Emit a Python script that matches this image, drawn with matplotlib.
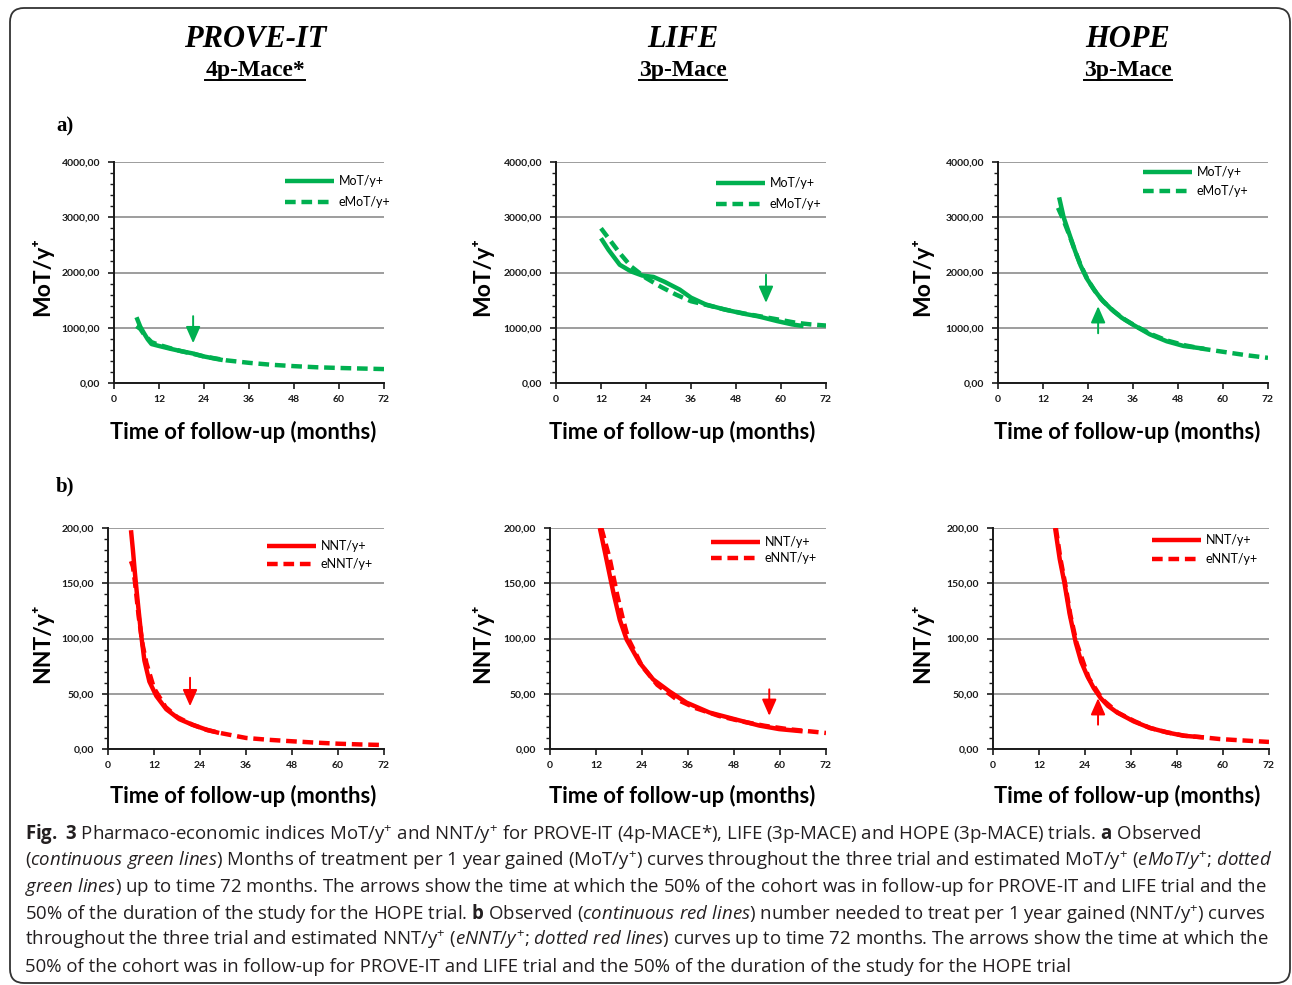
import matplotlib
matplotlib.use("Agg")
import matplotlib.pyplot as plt
from matplotlib.patches import FancyBboxPatch
from matplotlib.lines import Line2D
from matplotlib.transforms import IdentityTransform
from matplotlib import font_manager

# ---------------- data ----------------
trials = ["PROVE-IT", "LIFE", "HOPE"]
endpoints = ["4p-Mace*", "3p-Mace", "3p-Mace"]
month_ticks = [0, 12, 24, 36, 48, 60, 72]
mot_ticks = [0, 1000, 2000, 3000, 4000]
nnt_ticks = [0, 50, 100, 150, 200]

# MoT/y+ observed (solid) and estimated (dashed)
prove_mot_t = [6, 7, 8, 9, 10, 12, 15, 18, 21, 24, 27, 29]
prove_mot_v = [1190, 1020, 900, 790, 705, 670, 620, 575, 535, 480, 440, 415]
prove_emot_t = [6, 7, 8, 10, 12, 15, 18, 21, 24, 30, 36, 42, 48, 54, 60, 66, 72]
prove_emot_v = [1030, 980, 880, 740, 690, 630, 575, 530, 480, 410, 365, 330, 305, 285, 272, 262, 252]

life_mot_t = [12, 14, 17, 20, 23, 26, 29, 33, 36, 40, 45, 50, 54, 59, 63, 66]
life_mot_v = [2620, 2410, 2140, 2020, 1945, 1920, 1830, 1690, 1545, 1420, 1330, 1255, 1205, 1120, 1060, 1030]
life_emot_t = [12, 14, 17, 20, 24, 28, 32, 36, 40, 45, 50, 55, 60, 64, 68, 72]
life_emot_v = [2800, 2620, 2350, 2110, 1900, 1740, 1600, 1480, 1415, 1330, 1260, 1200, 1140, 1090, 1060, 1040]

hope_mot_t = [16.3, 17.5, 19, 20.5, 22, 23.6, 25.5, 27.5, 30, 33, 36, 40.5, 45, 49.5, 55]
hope_mot_v = [3360, 3000, 2700, 2400, 2130, 1900, 1700, 1520, 1350, 1180, 1055, 880, 755, 670, 620]
hope_emot_t = [16, 17.5, 19, 20.5, 22, 24, 26, 28, 31, 34, 37, 41, 45, 50, 55, 60, 66, 72]
hope_emot_v = [3170, 2940, 2680, 2400, 2140, 1860, 1650, 1480, 1290, 1140, 1020, 880, 770, 680, 615, 565, 505, 455]

# NNT/y+ observed (solid) and estimated (dashed)
prove_nnt_t = [6, 6.5, 7, 7.5, 8, 8.7, 9.5, 10.8, 12.6, 15.2, 18.6, 22, 25.6, 29]
prove_nnt_v = [198, 180, 160, 142, 125, 102, 80, 61, 48, 36, 27, 22, 17.6, 14.5]
prove_ennt_t = [6, 6.5, 7, 7.5, 8, 9, 10, 12, 15, 18, 22, 26, 30, 36, 42, 48, 54, 60, 66, 72]
prove_ennt_v = [170, 165, 152, 136, 120, 95, 78, 55, 38, 29, 22, 17, 14, 10, 8.3, 7, 5.8, 4.8, 4.1, 3.6]

life_nnt_t = [13, 14.7, 16.5, 18.2, 20, 23.4, 26.9, 31.2, 35.6, 41.6, 48.6, 54.6, 59.8, 65.9]
life_nnt_v = [200, 172, 142, 117, 99, 78, 63, 52, 42, 33, 26.6, 21.2, 18, 16]
life_ennt_t = [13.4, 15.6, 17.5, 19, 20.4, 24, 28, 33, 38, 44, 50, 56, 62, 67.7, 72]
life_ennt_v = [200, 172, 140, 118, 100, 75, 58, 45, 37, 30, 25, 21, 18, 16, 14.5]

hope_nnt_t = [16.2, 17.4, 18.6, 20, 21.6, 23, 24.6, 26.3, 28.1, 30, 32.4, 36.7, 41, 45.4, 49.7, 55]
hope_nnt_v = [200, 172, 151, 122, 96, 79, 66, 55, 46, 39, 33, 25, 19, 15, 12, 10.5]
hope_ennt_t = [16.4, 17.6, 18.8, 20.2, 21.8, 25, 28.5, 32.5, 37, 41, 45.5, 50, 55, 59.2, 64.4, 72]
hope_ennt_v = [200, 172, 150, 121, 96, 64, 45, 33, 25, 19, 15, 12, 10.5, 9, 7.9, 6.4]

# arrows: month, tail value, tip value
mot_arrow_month = [21.1, 56.0, 26.7]
mot_arrow_tail = [1210, 1960, 900]
mot_arrow_tip = [720, 1450, 1390]
nnt_arrow_month = [21.4, 57.2, 27.4]
nnt_arrow_tail = [64.5, 54, 22]
nnt_arrow_tip = [38.7, 30, 46]

caption_lines = [
    r"$\mathbf{Fig.\ 3}$ Pharmaco-economic indices MoT/y$^{+}$ and NNT/y$^{+}$ for PROVE-IT (4p-MACE*), LIFE (3p-MACE) and HOPE (3p-MACE) trials. $\mathbf{a}$ Observed",
    r"($\mathit{continuous\ green\ lines}$) Months of treatment per 1 year gained (MoT/y$^{+}$) curves throughout the three trial and estimated MoT/y$^{+}$ $\mathit{(eMoT/y^{+}}$; $\mathit{dotted}$",
    r"$\mathit{green\ lines}$) up to time 72 months. The arrows show the time at which the 50% of the cohort was in follow-up for PROVE-IT and LIFE trial and the",
    r"50% of the duration of the study for the HOPE trial. $\mathbf{b}$ Observed ($\mathit{continuous\ red\ lines}$) number needed to treat per 1 year gained (NNT/y$^{+}$) curves",
    r"throughout the three trial and estimated NNT/y$^{+}$ ($\mathit{eNNT/y^{+}}$; $\mathit{dotted\ red\ lines}$) curves up to time 72 months. The arrows show the time at which the",
    r"50% of the cohort was in follow-up for PROVE-IT and LIFE trial and the 50% of the duration of the study for the HOPE trial",
]

# ---------------- style ----------------
GREEN = "#00B050"
RED = "#FF0000"
SANS = ["Lato", "DejaVu Sans"]
SERIF = "Liberation Serif"
names = {f.name for f in font_manager.fontManager.ttflist}
CAP_FONT = "Liberation Sans Narrow" if "Liberation Sans Narrow" in names else "Open Sans"
plt.rcParams["mathtext.fontset"] = "custom"
plt.rcParams["mathtext.rm"] = CAP_FONT
plt.rcParams["mathtext.it"] = CAP_FONT + ":italic"
plt.rcParams["mathtext.bf"] = CAP_FONT + ":bold"

W, H = 1292, 985
fig = plt.figure(figsize=(W / 100, H / 100), dpi=100)


def fx(x):
    return x / W


def fy(y):
    return 1 - y / H


# outer rounded frame
frame = FancyBboxPatch((10, 2), 1280, 975, boxstyle="round,pad=0,rounding_size=14",
                       transform=IdentityTransform(), fc="none", ec="#333333", lw=1.3)
fig.add_artist(frame)

# titles
title_x = [255, 683, 1128]
renderer = fig.canvas.get_renderer()
for tx, name, ep in zip(title_x, trials, endpoints):
    fig.text(fx(tx), fy(47), name, ha="center", va="baseline", family=SERIF,
             weight="bold", style="italic", fontsize=22)
    st = fig.text(fx(tx), fy(76), ep, ha="center", va="baseline", family=SERIF,
                  weight="bold", fontsize=17)
    bb = st.get_window_extent(renderer)
    fig.add_artist(Line2D([bb.x0, bb.x1], [fy(80) * H, fy(80) * H],
                          transform=IdentityTransform(), color="black", lw=1.4))

fig.text(fx(56), fy(131), "a)", ha="left", va="baseline", family=SERIF, weight="bold", fontsize=15)
fig.text(fx(56), fy(491), "b)", ha="left", va="baseline", family=SERIF, weight="bold", fontsize=15)


def fmt(v):
    return f"{v:.2f}".replace(".", ",")


def panel(rect, obs_t, obs_v, est_t, est_v, color, ticks, minor, legend_labels,
          arrow, leg, ylabel, ylab_xy, xlab_xy):
    l, t, r, b = rect
    ax = fig.add_axes([fx(l), fy(b), (r - l) / W, (b - t) / H])
    ax.set_xlim(month_ticks[0], month_ticks[-1])
    ax.set_ylim(ticks[0], ticks[-1])
    ax.set_xticks(month_ticks)
    ax.set_xticklabels([str(m) for m in month_ticks])
    ax.set_yticks(ticks)
    ax.set_yticklabels([fmt(v) for v in ticks])
    ax.set_yticks([v for v in range(int(ticks[0]), int(ticks[-1]), minor)], minor=True)
    ax.grid(axis="y", which="major", color="#8c8c8c", lw=1.2)
    ax.set_axisbelow(True)
    for s in ["top", "right"]:
        ax.spines[s].set_visible(False)
    for s in ["left", "bottom"]:
        ax.spines[s].set_color("#1a1a1a")
        ax.spines[s].set_linewidth(1.4)
    ax.tick_params(axis="y", which="major", length=4, width=1.2, pad=6, labelsize=7.5, colors="#1a1a1a")
    ax.tick_params(axis="y", which="minor", length=3, width=1.0, color="#1a1a1a")
    ax.tick_params(axis="x", which="major", length=4, width=1.2, pad=5, labelsize=7.5, colors="#1a1a1a")
    for lab in ax.get_xticklabels() + ax.get_yticklabels():
        lab.set_family(SANS)
        lab.set_weight("bold")
    ax.plot(est_t, est_v, color=color, lw=3.2, dashes=(2.4, 1.3), dash_capstyle="butt")
    ax.plot(obs_t, obs_v, color=color, lw=3.2, solid_capstyle="butt")
    m, tail, tip = arrow
    ax.annotate("", xy=(m, tip), xytext=(m, tail),
                arrowprops=dict(arrowstyle="-|>,head_length=0.5,head_width=0.22",
                                color=color, lw=1.4, mutation_scale=20,
                                shrinkA=0, shrinkB=0))
    hx, hy, spacing = leg
    handles = [Line2D([], [], color=color, lw=3.2, solid_capstyle="butt"),
               Line2D([], [], color=color, lw=3.2, dashes=(2.4, 1.3), dash_capstyle="butt")]
    ax.legend(handles, legend_labels, loc="upper left",
              bbox_to_anchor=((hx - l) / (r - l), (b - hy + 5) / (b - t)),
              frameon=False, borderpad=0, borderaxespad=0, handlelength=3.9,
              handletextpad=0.4, labelspacing=spacing,
              prop=dict(family=SANS, size=9))
    fig.text(fx(ylab_xy[0]), fy(ylab_xy[1]), ylabel, rotation=90, ha="center", va="center",
             family=SANS, weight="bold", fontsize=16.5)
    fig.text(fx(xlab_xy[0]), fy(xlab_xy[1]), "Time of follow-up (months)", ha="center",
             va="center", family=SANS, weight="bold", fontsize=15.8)
    return ax


top_rects = [(114, 162, 384, 383), (556, 162, 826, 383), (998, 162, 1268, 383)]
bot_rects = [(108, 528, 384, 749), (550, 528, 826, 749), (993, 528, 1269, 749)]
top_leg = [(285, 180, 0.75), (716, 182, 0.75), (1143, 171, 0.55)]
bot_leg = [(267, 545, 0.5), (711, 541, 0.35), (1152, 539, 0.55)]
ylab_x = [42, 482, 922]
xlab_x = [243, 682, 1127]

mot_obs = [(prove_mot_t, prove_mot_v), (life_mot_t, life_mot_v), (hope_mot_t, hope_mot_v)]
mot_est = [(prove_emot_t, prove_emot_v), (life_emot_t, life_emot_v), (hope_emot_t, hope_emot_v)]
nnt_obs = [(prove_nnt_t, prove_nnt_v), (life_nnt_t, life_nnt_v), (hope_nnt_t, hope_nnt_v)]
nnt_est = [(prove_ennt_t, prove_ennt_v), (life_ennt_t, life_ennt_v), (hope_ennt_t, hope_ennt_v)]

for i in range(3):
    panel(top_rects[i], *mot_obs[i], *mot_est[i], GREEN, mot_ticks, 200,
          ["MoT/y+", "eMoT/y+"],
          (mot_arrow_month[i], mot_arrow_tail[i], mot_arrow_tip[i]),
          top_leg[i], "MoT/y\u207a", (ylab_x[i], 276), (xlab_x[i], 432))
    panel(bot_rects[i], *nnt_obs[i], *nnt_est[i], RED, nnt_ticks, 10,
          ["NNT/y+", "eNNT/y+"],
          (nnt_arrow_month[i], nnt_arrow_tail[i], nnt_arrow_tip[i]),
          bot_leg[i], "NNT/y\u207a", (ylab_x[i], 643), (xlab_x[i], 796))

# caption: fit font size so that a full line spans the justified width
probe = fig.text(0, 0, caption_lines[1], family=CAP_FONT, fontsize=12)
wpx = probe.get_window_extent(renderer).width
probe.remove()
cap_size = 12 * (1272 - 25) / wpx
for k, line in enumerate(caption_lines):
    fig.text(fx(25), fy(839 + 26.6 * k), line, ha="left", va="baseline",
             family=CAP_FONT, fontsize=cap_size, color="#231f20")

fig.savefig("out.png", dpi=100)
